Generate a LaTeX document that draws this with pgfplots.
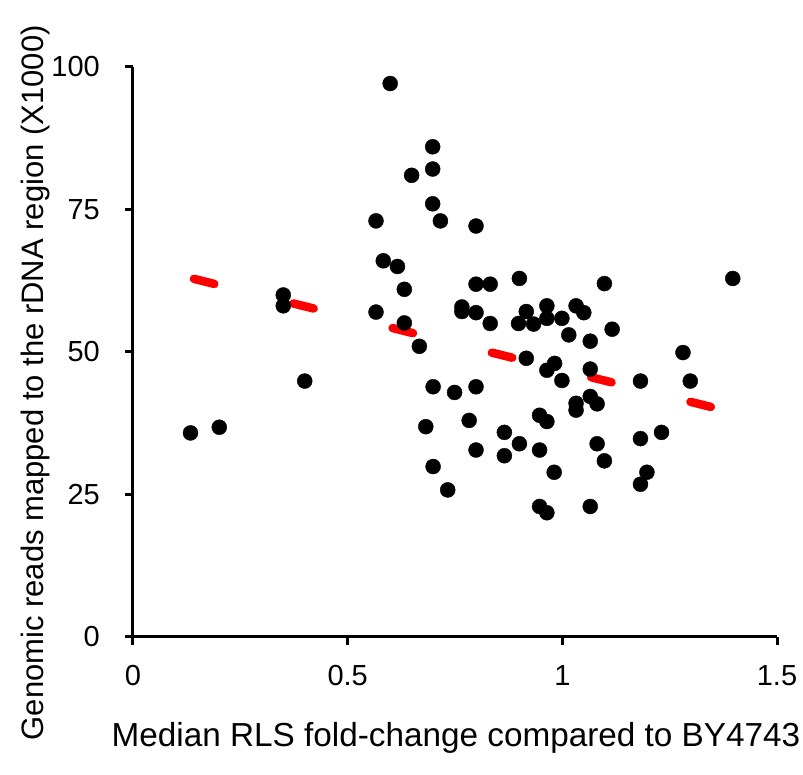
\documentclass[border=0pt]{standalone}
\usepackage{pgfplots}
\pgfplotsset{compat=1.18}
\usepackage{fontspec}
\setmainfont{Liberation Sans}
\pgfplotsset{every y tick label/.append style={anchor=east, inner sep=0pt, xshift=-25pt, font=\fontsize{29}{34}\selectfont}}
\begin{document}
\begin{tikzpicture}
\useasboundingbox (-133pt,-138pt) rectangle (670pt,637pt);
\begin{axis}[
  at={(0pt,0pt)}, anchor=south west,
  scale only axis, width=644pt, height=570pt,
  xmin=0, xmax=1.5, ymin=0, ymax=100,
  axis x line*=bottom, axis y line*=left,
  axis line style={line width=3pt, black},
  xtick={0,0.5,1,1.5}, ytick={0,25,50,75,100},
  xticklabels={0,0.5,1,1.5},
  yticklabels={0,25,50,75,100},
  tick align=outside, major tick length=8pt,
  tick style={line width=3pt, black},
  xticklabel style={anchor=center, inner sep=0pt, yshift=-31pt, font=\fontsize{29}{34}\selectfont},
  xlabel={Median RLS fold-change compared to BY4743},
  ylabel={Genomic reads mapped to the rDNA region (X1000)},
  xlabel style={at={(axis description cs:0.5016,-0.177)}, anchor=center, inner sep=0pt, font=\fontsize{33.3}{40}\selectfont},
  ylabel style={at={(axis description cs:-0.152,0.446)}, anchor=center, inner sep=0pt, font=\fontsize{31}{37}\selectfont},
  clip=false,
]
\addplot[red, line width=8.5pt, line cap=round, dash pattern=on 21pt off 81.3pt] coordinates {(0.142,62.83) (1.351,40.27)};
\addplot[only marks, mark=*, mark size=7.5pt, black] coordinates {
(0.134,35.8) (0.201,36.8) (0.350,60.0) (0.350,58.1) (0.400,44.9)
(0.566,73.0) (0.583,66.0) (0.566,57.0) (0.599,97.1) (0.616,65.0)
(0.632,61.0) (0.632,55.1) (0.649,81.0) (0.667,51.0) (0.682,36.9)
(0.698,86.0) (0.698,82.1) (0.698,76.0) (0.699,43.9) (0.699,29.9)
(0.716,73.0) (0.733,25.8) (0.749,42.9) (0.766,57.9) (0.766,57.1)
(0.783,38.0) (0.799,72.1) (0.799,61.9) (0.799,56.9) (0.799,43.9)
(0.799,32.8) (0.832,61.9) (0.832,55.0) (0.865,35.9) (0.865,31.8)
(0.900,62.9) (0.898,55.0) (0.900,33.9) (0.916,57.1) (0.916,48.9)
(0.933,54.9) (0.947,38.9) (0.947,32.8) (0.947,22.9) (0.964,58.1)
(0.964,55.9) (0.964,46.8) (0.964,37.8) (0.964,21.8) (0.982,48.0)
(0.981,28.9) (0.999,55.9) (0.999,45.0) (1.015,53.0) (1.032,58.1)
(1.050,56.9) (1.032,41.0) (1.032,39.8) (1.065,51.9) (1.065,47.0)
(1.065,42.2) (1.065,22.9) (1.081,40.9) (1.081,33.9) (1.098,62.0)
(1.098,30.9) (1.116,54.0) (1.182,44.9) (1.182,34.8) (1.182,26.8)
(1.197,28.9) (1.231,35.9) (1.281,49.9) (1.298,44.9) (1.397,62.9)
};
\end{axis}
\end{tikzpicture}
\end{document}
